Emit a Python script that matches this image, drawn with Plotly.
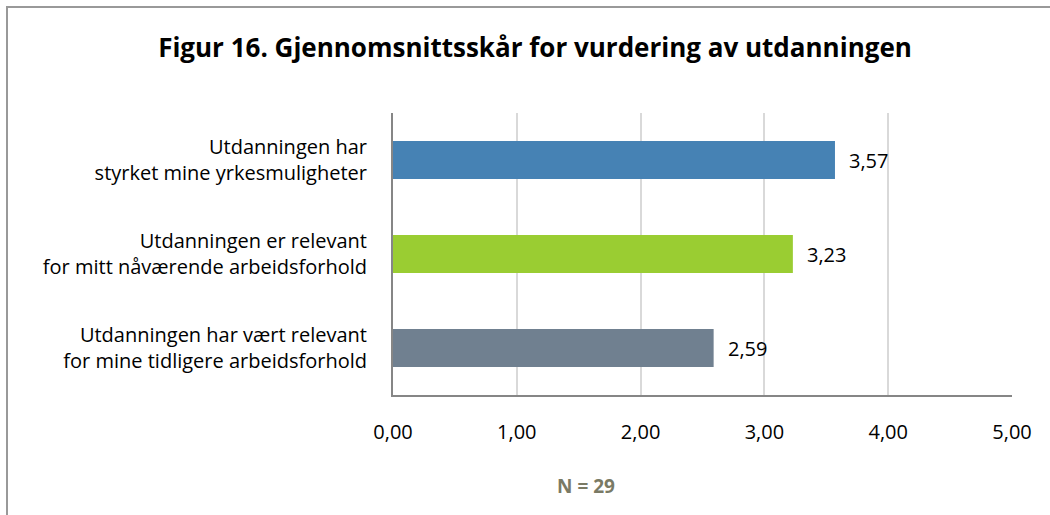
import plotly.graph_objects as go

categories = [
    "Utdanningen har<br>styrket mine yrkesmuligheter",
    "Utdanningen er relevant<br>for mitt nåværende arbeidsforhold",
    "Utdanningen har vært relevant<br>for mine tidligere arbeidsforhold",
]
values = [3.57, 3.23, 2.59]
colors = ["#4682B4", "#9ACD32", "#708090"]
x_ticks = [0, 1, 2, 3, 4, 5]
x_ticklabels = ["0,00", "1,00", "2,00", "3,00", "4,00", "5,00"]
title = "Figur 16. Gjennomsnittsskår for vurdering av utdanningen"
note = "N = 29"

W, H = 1050, 515
L, R, T, B = 393, 38, 113, 120
pw, ph = W - L - R, H - T - B
FONT = "Open Sans"

def px(x):
    return (x - L) / pw

def py(y):
    return (H - B - y) / ph

fig = go.Figure(go.Bar(
    x=values,
    y=categories,
    orientation="h",
    marker=dict(color=colors, line=dict(width=0)),
    width=0.404,
    cliponaxis=False,
    hoverinfo="x+y",
))

for c, v in zip(categories, values):
    fig.add_annotation(
        x=v, y=c, xref="x", yref="y",
        text=f"{v:.2f}".replace(".", ","),
        xanchor="left", yanchor="middle", xshift=12,
        showarrow=False,
        font=dict(family=FONT, size=20, color="#000000"),
    )

fig.add_annotation(
    text="<b>" + note + "</b>", xref="paper", yref="paper",
    x=px(586), y=py(486), xanchor="center", yanchor="middle",
    showarrow=False,
    font=dict(family=FONT, size=19, color="#7a7a65"),
)

fig.update_layout(
    width=W, height=H,
    margin=dict(l=L, r=R, t=T, b=B),
    paper_bgcolor="white",
    plot_bgcolor="white",
    showlegend=False,
    font=dict(family=FONT, size=20, color="#000000"),
    title=dict(
        text="<b>" + title + "</b>",
        x=px(535), xref="paper", xanchor="center",
        y=1 - 48 / H, yref="container", yanchor="middle",
        font=dict(family=FONT, size=26, color="#000000"),
    ),
    xaxis=dict(
        range=[0, 5],
        tickvals=x_ticks,
        ticktext=x_ticklabels,
        showgrid=True, gridcolor="#d9d9d9", gridwidth=2,
        showline=True, linecolor="#868686", linewidth=2,
        ticks="outside", ticklen=18, tickcolor="rgba(0,0,0,0)",
        zeroline=False,
        tickfont=dict(size=20),
    ),
    yaxis=dict(
        categoryorder="array",
        categoryarray=categories[::-1],
        showline=True, linecolor="#868686", linewidth=2,
        ticks="outside", ticklen=20, tickcolor="rgba(0,0,0,0)",
        showgrid=False,
        tickfont=dict(size=20),
    ),
    shapes=[dict(
        type="rect", xref="paper", yref="paper",
        x0=px(7), x1=px(1080), y0=py(540), y1=py(7),
        line=dict(color="#999999", width=2), fillcolor="rgba(0,0,0,0)",
        layer="below",
    )],
)

fig.write_html(
    "out.html",
    config={"displayModeBar": False},
    post_script="document.body.style.margin='0px';",
)
